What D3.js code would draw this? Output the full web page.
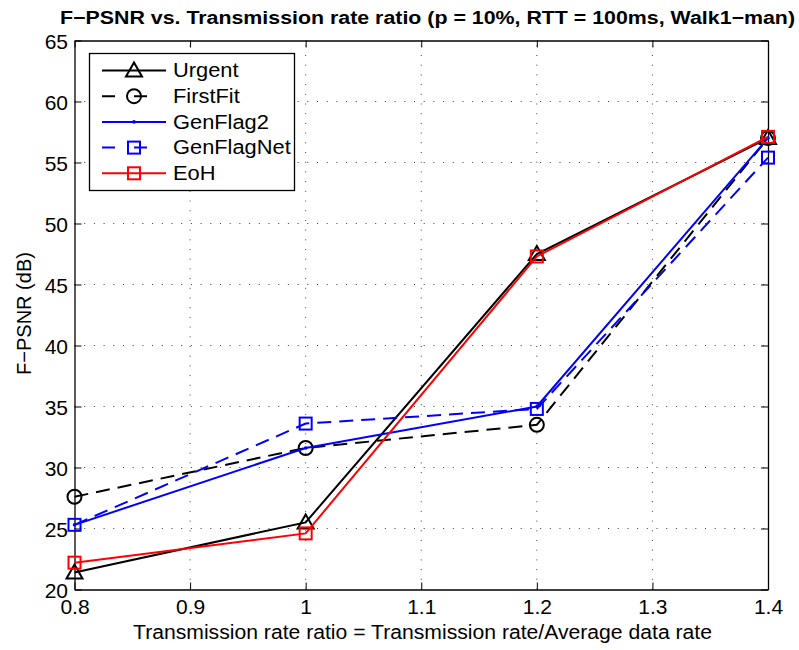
<!DOCTYPE html>
<html>
<head>
<meta charset="utf-8">
<script src="https://cdn.jsdelivr.net/npm/d3@7"></script>
<style>
  html, body { margin: 0; padding: 0; background: #fff; }
  svg { display: block; font-family: "Liberation Sans", Arial, sans-serif; }
</style>
</head>
<body>
<svg id="chart" width="799" height="650"></svg>
<script>
// Transmission rate ratio values on the x axis
const ratios = [0.8, 1.0, 1.2, 1.4];

// F-PSNR (dB) for each scheme
const urgent     = [21.4, 25.5, 47.5, 57.0];
const firstFit   = [27.6, 31.6, 33.5, 57.0];
const genFlag2   = [25.3, 31.6, 35.0, 57.0];
const genFlagNet = [25.3, 33.6, 34.8, 55.4];
const eoh        = [22.2, 24.6, 47.3, 57.1];

const xTicks = [0.8, 0.9, 1.0, 1.1, 1.2, 1.3, 1.4];
const yTicks = [20, 25, 30, 35, 40, 45, 50, 55, 60, 65];

const seriesNames = ["Urgent", "FirstFit", "GenFlag2", "GenFlagNet", "EoH"];

const series = [
  { name: seriesNames[0], values: urgent,     color: "#000000", dash: null,   marker: "triangle" },
  { name: seriesNames[1], values: firstFit,   color: "#000000", dash: "14,8", marker: "circle" },
  { name: seriesNames[2], values: genFlag2,   color: "#0000ff", dash: null,   marker: "dot" },
  { name: seriesNames[3], values: genFlagNet, color: "#0000ff", dash: "14,8", marker: "square" },
  { name: seriesNames[4], values: eoh,        color: "#ff0000", dash: null,   marker: "square" }
];

const svg = d3.select("#chart");
const plotL = 74.5, plotR = 768, plotT = 40.5, plotB = 589.5;

const x = d3.scaleLinear().domain([0.8, 1.4]).range([plotL, plotR]);
const y = d3.scaleLinear().domain([20, 65]).range([plotB, plotT]);

// Dotted grid
const grid = svg.append("g").attr("stroke", "#000").attr("stroke-width", 1)
  .attr("stroke-dasharray", "1,8.7").attr("opacity", 0.75);
xTicks.slice(1, -1).forEach(t => {
  grid.append("line").attr("x1", x(t)).attr("x2", x(t)).attr("y1", plotB).attr("y2", plotT);
});
yTicks.slice(1, -1).forEach(t => {
  grid.append("line").attr("x1", plotL).attr("x2", plotR).attr("y1", y(t)).attr("y2", y(t));
});

// Axes with inward ticks on all four sides
const tickLen = 7;
const axFont = 21;
const gB = svg.append("g").attr("transform", `translate(0,${plotB})`)
  .call(d3.axisBottom(x).tickValues(xTicks).tickSizeInner(-tickLen).tickSizeOuter(0)
        .tickPadding(10).tickFormat(d => d3.format("")(+d.toFixed(1))));
const gT = svg.append("g").attr("transform", `translate(0,${plotT})`)
  .call(d3.axisTop(x).tickValues(xTicks).tickSizeInner(-tickLen).tickSizeOuter(0).tickFormat(""));
const gL = svg.append("g").attr("transform", `translate(${plotL},0)`)
  .call(d3.axisLeft(y).tickValues(yTicks).tickSizeInner(-tickLen).tickSizeOuter(0).tickPadding(6.5));
const gR = svg.append("g").attr("transform", `translate(${plotR},0)`)
  .call(d3.axisRight(y).tickValues(yTicks).tickSizeInner(-tickLen).tickSizeOuter(0).tickFormat(""));
[gB, gT, gL, gR].forEach(g => {
  g.select(".domain").attr("stroke", "#000").attr("stroke-width", 1.3);
  g.selectAll(".tick line").attr("stroke", "#000").attr("stroke-width", 1);
  g.selectAll("text").attr("font-size", axFont).attr("fill", "#000")
    .attr("font-family", "'Liberation Sans', Arial, sans-serif");
});
gL.selectAll("text").attr("dy", "0.38em");

// Line generator
const line = d3.line().x((d, i) => x(ratios[i])).y(d => y(d));

function drawMarker(g, type, cx, cy, color) {
  if (type === "triangle") {
    const s = 8;
    g.append("path")
      .attr("d", `M${cx},${cy - s} L${cx + s},${cy + s * 0.75} L${cx - s},${cy + s * 0.75} Z`)
      .attr("fill", "none").attr("stroke", color).attr("stroke-width", 2);
  } else if (type === "circle") {
    g.append("circle").attr("cx", cx).attr("cy", cy).attr("r", 7)
      .attr("fill", "none").attr("stroke", color).attr("stroke-width", 2);
  } else if (type === "square") {
    const s = 6;
    g.append("rect").attr("x", cx - s).attr("y", cy - s).attr("width", 2 * s).attr("height", 2 * s)
      .attr("fill", "none").attr("stroke", color).attr("stroke-width", 2);
  } else if (type === "dot") {
    g.append("circle").attr("cx", cx).attr("cy", cy).attr("r", 1.8).attr("fill", color);
  }
}

const plot = svg.append("g");
series.forEach(s => {
  plot.append("path").datum(s.values)
    .attr("d", line)
    .attr("fill", "none")
    .attr("stroke", s.color)
    .attr("stroke-width", 2)
    .attr("stroke-dasharray", s.dash);
  s.values.forEach((v, i) => drawMarker(plot, s.marker, x(ratios[i]), y(v), s.color));
});

// Legend (labels drawn slightly wide, like the axis title)
const lg = svg.append("g");
const lx = 89.5, ly = 53.5, lw = 205, lh = 137;
lg.append("rect").attr("x", lx).attr("y", ly).attr("width", lw).attr("height", lh)
  .attr("fill", "#fff").attr("stroke", "#000").attr("stroke-width", 1.3);
series.forEach((s, i) => {
  const yy = 70.5 + i * 25.7;
  lg.append("line").attr("x1", 102).attr("x2", 166).attr("y1", yy).attr("y2", yy)
    .attr("stroke", s.color).attr("stroke-width", 2).attr("stroke-dasharray", s.dash ? "13,19" : null);
  drawMarker(lg, s.marker, 134, yy, s.color);
  const t = lg.append("text").attr("x", 173).attr("y", yy).attr("dy", "0.34em")
    .attr("font-size", 19.5).attr("fill", "#000").text(s.name);
  const w = t.node().getComputedTextLength();
  t.attr("textLength", w * 1.12).attr("lengthAdjust", "spacingAndGlyphs");
});

// Title and axis labels
svg.append("text").attr("x", 60).attr("y", 23.5)
  .attr("font-size", 18).attr("font-weight", "bold").attr("fill", "#000")
  .attr("textLength", 735).attr("lengthAdjust", "spacingAndGlyphs")
  .text("F\u2212PSNR vs. Transmission rate ratio (p = 10%, RTT = 100ms, Walk1\u2212man)");

svg.append("text").attr("x", 133).attr("y", 639)
  .attr("font-size", 20).attr("fill", "#000")
  .attr("textLength", 579).attr("lengthAdjust", "spacingAndGlyphs")
  .text("Transmission rate ratio = Transmission rate/Average data rate");

svg.append("text").attr("transform", "translate(31,313.5) rotate(-90)").attr("text-anchor", "middle")
  .attr("font-size", 20).attr("fill", "#000")
  .text("F\u2212PSNR (dB)");
</script>
</body>
</html>
